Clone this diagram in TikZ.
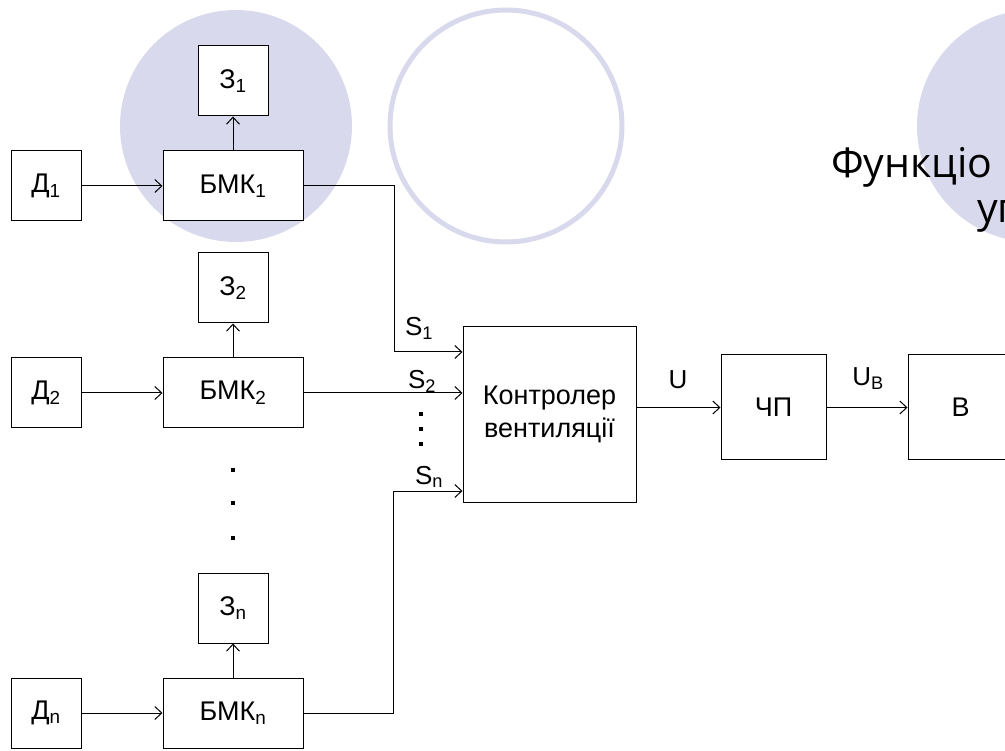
\documentclass[tikz,border=0pt]{standalone}
\usepackage{fontspec}
\setmainfont{Liberation Sans}
\newfontfamily\titlefont{Open Sans}
\usetikzlibrary{arrows.meta}
\definecolor{lavender}{RGB}{217,217,237}
\tikzset{
  blk/.style={draw, line width=1pt, fill=white, minimum width=70pt, minimum height=70pt, inner sep=0pt, font=\fontsize{27}{31}\selectfont},
  lbl/.style={font=\fontsize{26}{30}\selectfont, inner sep=0pt},
  sig/.style={-{Straight Barb[length=7pt,width=13pt]}, line width=1pt}
}

\begin{document}
\begin{tikzpicture}[x=1pt, y=-1pt]
  \useasboundingbox (0,0) rectangle (1005,751);
  \clip (0,0) rectangle (1005,751);
  % background circles
  \fill[lavender] (236,126) circle (116pt);
  \draw[lavender, line width=5pt] (506,126) circle (116pt);
  \fill[lavender] (1033,126) circle (116pt);
  % title
  \node[anchor=base west, inner sep=0pt, font=\titlefont\fontsize{41}{46}\selectfont] (title1) at (831,178) {Функціо};
  \node[anchor=base west, inner sep=0pt, font=\titlefont\fontsize{41}{46}\selectfont] (title2) at (977,223) {уп};

  % sensors, blocks, actuators
  \foreach \i/\y in {1/186, 2/393, n/713} {
    \node[blk] (d\i) at (46,\y) {Д\textsubscript{\i}};
    \node[blk, minimum width=140pt] (bmk\i) at (233,\y) {БМК\textsubscript{\i}};
    \node[blk] (z\i) at (233,{\y-105}) {З\textsubscript{\i}};
    \draw[sig] (d\i) -- (bmk\i);
    \draw[sig] (bmk\i) -- (z\i);
  }
  \foreach \y in {470,503,538}
    \fill[shift={(233,\y)}] (-2,-2) rectangle (2,2);

  % controller
  \node[blk, minimum width=173pt, minimum height=175pt, align=center, font=\fontsize{27}{33}\selectfont] (ctrl) at (549.5,414.5) {Контролер\\вентиляції};
  \path (ctrl.west) ++(0,-62.5) coordinate (s1);
  \path (ctrl.west) ++(0,76.5) coordinate (sn);
  \draw[sig] (bmk1.east) -- ++(91,0) |- (s1);
  \draw[sig] (bmk2.east) -- (bmk2.east -| ctrl.west);
  \draw[sig] (bmkn.east) -- ++(90,0) |- (sn);
  \node[lbl] (s1lbl) at (419,328) {S\textsubscript{1}};
  \node[lbl] (s2lbl) at (422,381) {S\textsubscript{2}};
  \node[lbl] (snlbl) at (429,477) {S\textsubscript{n}};
  \foreach \y in {414,429,444}
    \fill[shift={(421,\y)}] (-2,-2) rectangle (2,2);

  % converter and fan
  \node[blk, minimum width=105pt, minimum height=105pt] (chp) at (773.5,407.5) {ЧП};
  \node[blk, minimum width=105pt, minimum height=105pt] (vent) at (960.5,407.5) {В};
  \draw[sig] (ctrl.east |- chp) -- (chp);
  \draw[sig] (chp) -- (vent);
  \node[lbl] (ulbl) at (678,380) {U};
  \node[lbl] (ublbl) at (868,379) {U\textsubscript{В}};
\end{tikzpicture}
\end{document}
